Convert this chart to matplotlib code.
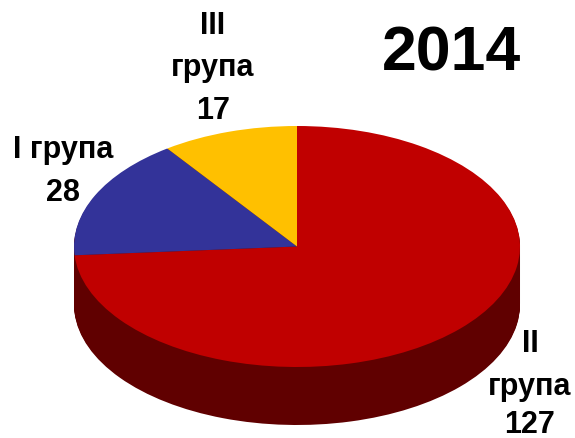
import numpy as np
import matplotlib
matplotlib.use('Agg')
import matplotlib.pyplot as plt

plt.rcParams['font.family'] = ['Liberation Sans', 'DejaVu Sans']
plt.rcParams['font.weight'] = 'bold'

W, H = 575, 439
values = [127, 28, 17]
top_colors = ['#C00000', '#333399', '#FFC000']
side_colors = ['#600000', '#600000', '#600000']
year = '2014'
labels = [['II', 'група', '127'], ['I група', '28'], ['III', 'група', '17']]

# ellipse of the disc, in pixels
cx, cy, rx, ry = 297, 247.5, 223, 120.5
depth = 58

fig = plt.figure(figsize=(W / 100, H / 100), dpi=100)
ax = fig.add_axes([0, 0, 1, 1])

# side wall: the same pie stacked downwards, then the top on it
for d in np.arange(depth, 0, -1):
    ax.pie(values, colors=side_colors, startangle=90, counterclock=False,
           center=(0, -d / ry), wedgeprops={'linewidth': 0})
ax.pie(values, colors=top_colors, startangle=90, counterclock=False,
       wedgeprops={'linewidth': 0})

ax.set_aspect('auto')
ax.set_xlim(-cx / rx, (W - cx) / rx)
ax.set_ylim((cy - H) / ry, cy / ry)
ax.axis('off')


def put(x, y, s, size):
    fig.text(x / W, 1 - y / H, s, ha='center', va='baseline', fontsize=size,
             fontweight='bold', color='black')


put(452, 71, year, 45)
for x, ys, lines in [(530, [352, 395, 433], labels[0]),
                     (63, [158, 201], labels[1]),
                     (213, [34, 76, 119], labels[2])]:
    for y, s in zip(ys, lines):
        put(x, y, s, 22)

fig.savefig('out.png', dpi=100)
